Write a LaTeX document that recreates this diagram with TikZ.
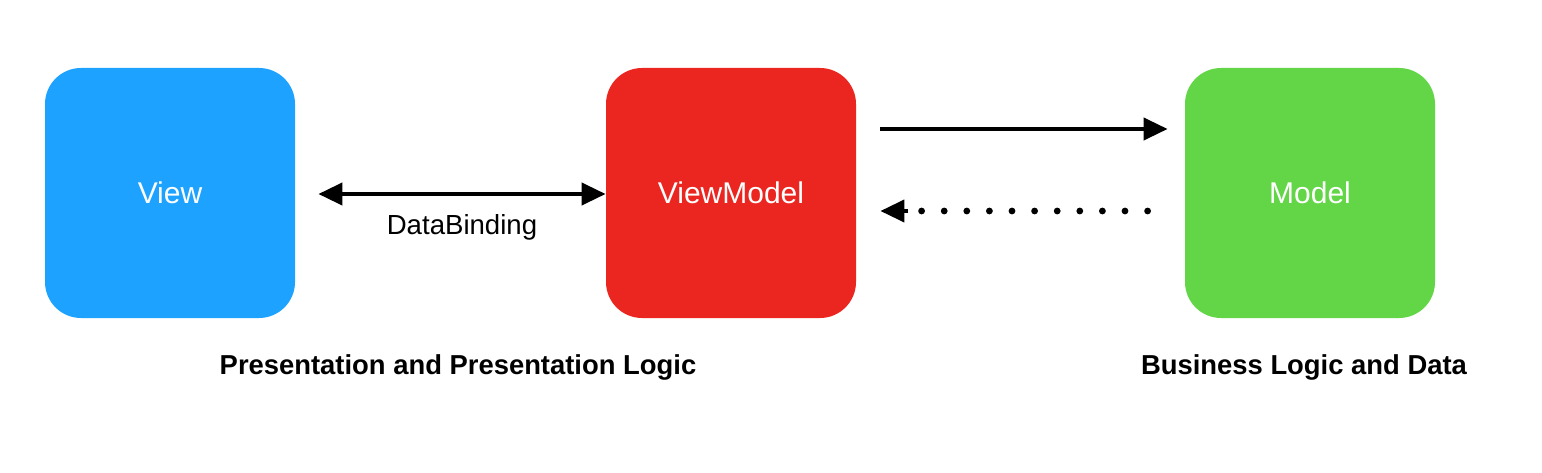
\documentclass[tikz,border=0pt]{standalone}
\usepackage{fontspec}
\setmainfont{Liberation Sans}
\usepackage{xcolor}
\definecolor{view-blue}{RGB}{29,163,255}
\definecolor{vm-red}{RGB}{235,38,32}
\definecolor{model-green}{RGB}{99,214,72}
\usetikzlibrary{arrows.meta,positioning}

\begin{document}
\begin{tikzpicture}[
    layer box/.style={
        rounded corners=18pt,
        draw=none,
        minimum width=125pt,
        minimum height=125pt,
        text=white,
        font=\fontsize{15}{18}\selectfont,
        inner sep=0pt
    },
    arrow/.style={-{Triangle[length=12pt,width=11pt]}, line width=2pt, black},
    both arrow/.style={{Triangle[length=12pt,width=11pt]}-{Triangle[length=12pt,width=11pt]}, line width=2pt, black},
    dot line/.style={line width=3.4pt, line cap=round, dash pattern=on 0pt off 11.3pt},
    layer label/.style={font=\bfseries\fontsize{13.7}{17}\selectfont}
]
\useasboundingbox (0,0) rectangle (771pt,236pt);

% Boxes
\node[layer box, fill=view-blue] (view) at (85pt,139.5pt) {View};
\node[layer box, fill=vm-red] (vm) at (365.5pt,139.5pt) {ViewModel};
\node[layer box, fill=model-green] (model) at (655pt,139.5pt) {Model};

% Arrows
\draw[both arrow] ([xshift=11.5pt,yshift=-0.5pt]view.east) -- ([yshift=-0.5pt]vm.west)
    node[midway, below=6pt, font=\fontsize{13.8}{17}\selectfont] (binding) {DataBinding};
\draw[arrow] ([xshift=12pt,yshift=32pt]vm.east) -- ([xshift=-8.5pt,yshift=32pt]model.west);
\draw[dot line] ([xshift=-18.5pt,yshift=-9pt]model.west) -- ([xshift=32pt,yshift=-9pt]vm.east);
\draw[arrow] ([xshift=26pt,yshift=-9pt]vm.east) -- ([xshift=12pt,yshift=-9pt]vm.east);

% Layer labels
\node[layer label] (presentation) at (229pt,52.5pt) {Presentation and Presentation Logic};
\node[layer label] (business) at (652pt,52.5pt) {Business Logic and Data};

\end{tikzpicture}
\end{document}
